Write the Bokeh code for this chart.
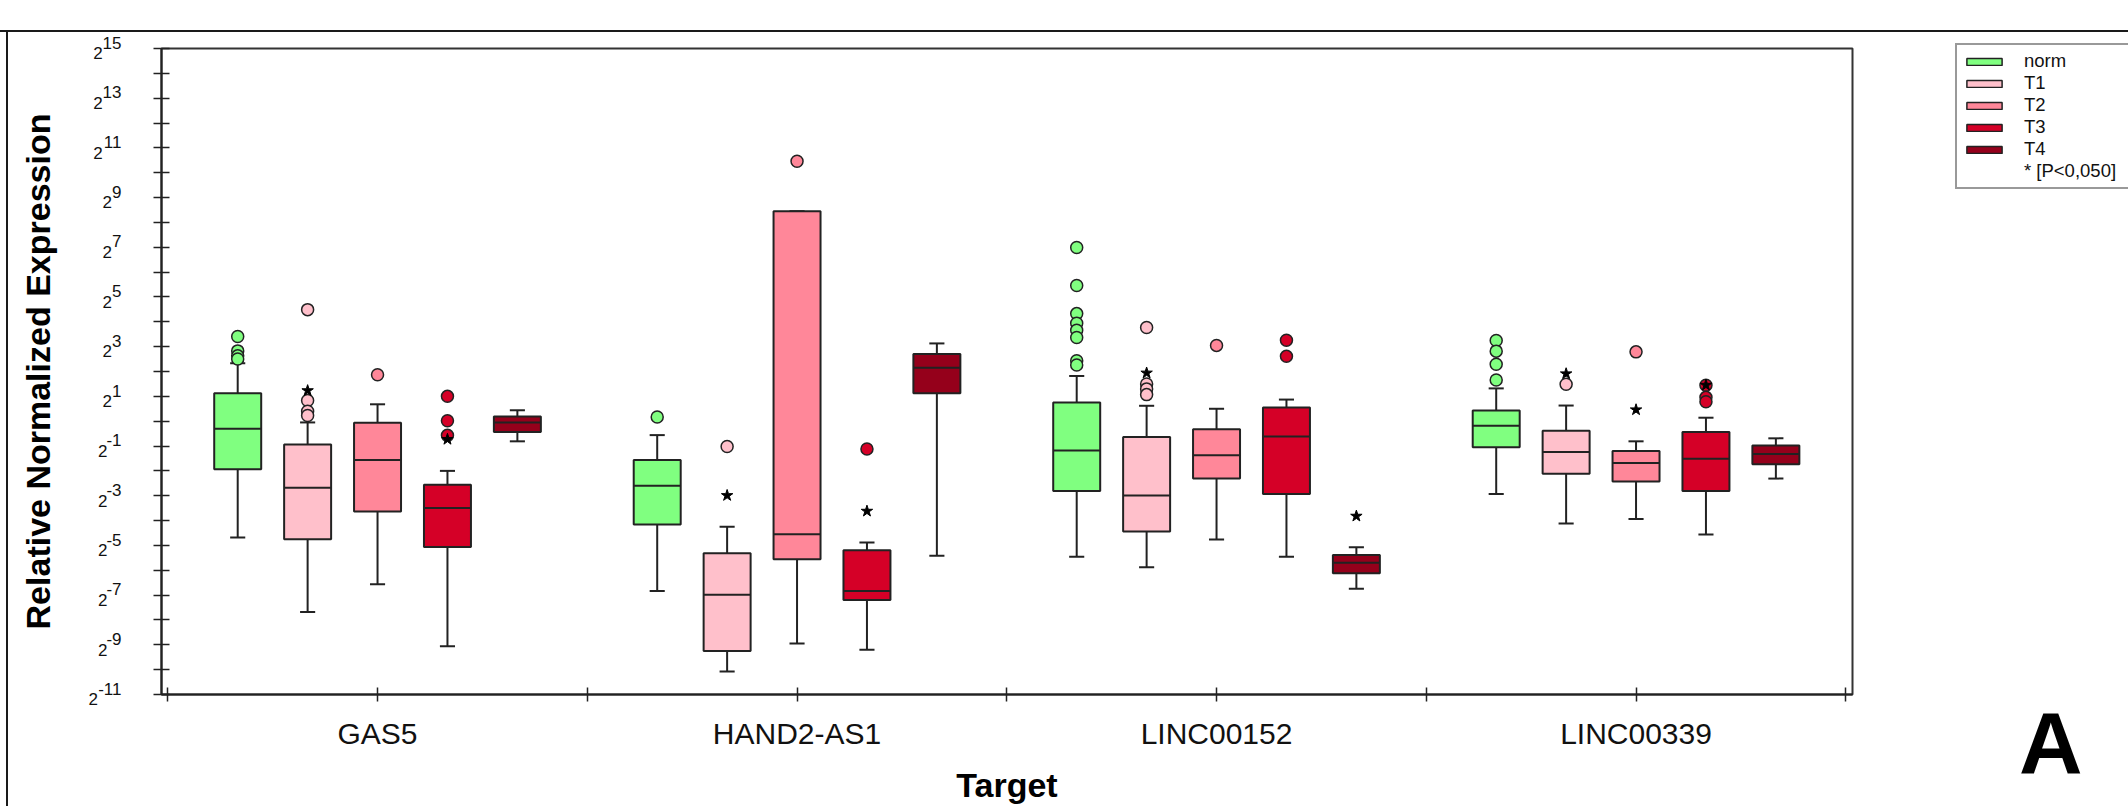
from bokeh.plotting import figure
from bokeh.models import FixedTicker, Legend, LegendItem, ColumnDataSource, Range1d, Div
from bokeh.layouts import column
from bokeh.embed import file_html
from bokeh.resources import INLINE

# ---------------- data (log2 of relative normalized expression) ----------------
targets = ["GAS5", "HAND2-AS1", "LINC00152", "LINC00339"]
series = ["norm", "T1", "T2", "T3", "T4"]
colors = ["#80FF80", "#FFC0CB", "#FF8799", "#D50027", "#95001B"]

# rows = targets, columns = series (norm, T1, T2, T3, T4)
whisker_low = [
    [-4.68, -7.68, -6.56, -9.06, -0.81],
    [-6.83, -10.07, -8.95, -9.20, -5.42],
    [-5.46, -5.88, -4.76, -5.46, -6.74],
    [-2.93, -4.12, -3.94, -4.56, -2.31],
]
q1 = [
    [-1.93, -4.75, -3.63, -5.06, -0.44],
    [-4.16, -9.25, -5.56, -7.20, 1.12],
    [-2.81, -4.44, -2.31, -2.93, -6.12],
    [-1.05, -2.12, -2.43, -2.81, -1.73],
]
median = [
    [-0.30, -2.68, -1.56, -3.49, -0.05],
    [-2.60, -6.99, -4.55, -6.83, 2.15],
    [-1.18, -2.99, -1.37, -0.62, -5.70],
    [-0.18, -1.24, -1.68, -1.51, -1.32],
]
q3 = [
    [1.12, -0.94, -0.06, -2.56, 0.19],
    [-1.56, -5.31, 8.45, -5.19, 2.70],
    [0.75, -0.64, -0.32, 0.55, -5.39],
    [0.43, -0.38, -1.20, -0.44, -0.98],
]
whisker_high = [
    [2.33, -0.05, 0.68, -2.00, 0.44],
    [-0.56, -4.25, 8.45, -4.88, 3.13],
    [1.82, 0.62, 0.50, 0.87, -5.07],
    [1.32, 0.63, -0.81, 0.14, -0.69],
]

# outliers: target index, series index, value
outlier_target = [0, 0, 0, 0, 0, 0, 0, 0, 0, 0, 0, 0,
                  1, 1, 1, 1,
                  2, 2, 2, 2, 2, 2, 2, 2, 2, 2, 2, 2, 2, 2, 2,
                  3, 3, 3, 3, 3, 3, 3, 3, 3]
outlier_series = [0, 0, 0, 0, 1, 1, 1, 1, 2, 3, 3, 3,
                  0, 1, 2, 3,
                  0, 0, 0, 0, 0, 0, 0, 0, 1, 1, 1, 1, 2, 3, 3,
                  0, 0, 0, 0, 1, 2, 3, 3, 3]
outlier_value = [3.41, 2.83, 2.63, 2.50, 4.49, 0.83, 0.40, 0.23, 1.87, 1.00, 0.02, -0.57,
                 0.17, -1.02, 10.46, -1.12,
                 6.99, 5.46, 4.33, 3.94, 3.66, 3.37, 2.43, 2.26, 3.77, 1.50, 1.30, 1.07, 3.05, 3.26, 2.61,
                 3.25, 2.82, 2.29, 1.66, 1.49, 2.79, 1.45, 0.96, 0.78]

# significance stars: target index, series index, value
star_target = [0, 0, 1, 1, 2, 2, 3, 3, 3]
star_series = [1, 3, 1, 3, 1, 4, 1, 2, 3]
star_value = [1.23, -0.73, -2.99, -3.62, 1.94, -3.82, 1.91, 0.46, 1.45]

y_ticks = list(range(-11, 16, 2))
y_minor = list(range(-10, 15, 2))

# ---------------- main figure ----------------
FONT = "Liberation Sans"
EDGE = "#222222"
BOX_W = 0.112
CAP_W = 0.036
STEP = 1.0 / 6.0

p = figure(width=2128, height=806, output_backend="svg", toolbar_location=None,
           x_range=Range1d(0.485, 4.516), y_range=Range1d(-11, 15),
           min_border_left=161, min_border_right=276, min_border_top=48, min_border_bottom=109)
p.border_fill_color = None
p.background_fill_color = "white"
p.outline_line_color = "#333333"
p.outline_line_width = 2
p.xgrid.visible = False
p.ygrid.visible = False
p.styles = {
    "background": "linear-gradient(#1a1a1a,#1a1a1a) 0px 30px / 100% 2px no-repeat, "
                  "linear-gradient(#1a1a1a,#1a1a1a) 6px 30px / 2px 100% no-repeat, white"
}


def pos(t, s):
    return t + 1 + (s - 2) * STEP


sources = []
for s, name in enumerate(series):
    xs = [pos(t, s) for t in range(len(targets))]
    src = ColumnDataSource(dict(
        x=xs,
        xl=[x - BOX_W / 2 for x in xs], xr=[x + BOX_W / 2 for x in xs],
        cl=[x - CAP_W / 2 for x in xs], cr=[x + CAP_W / 2 for x in xs],
        lo=[whisker_low[t][s] for t in range(len(targets))],
        q1=[q1[t][s] for t in range(len(targets))],
        med=[median[t][s] for t in range(len(targets))],
        q3=[q3[t][s] for t in range(len(targets))],
        hi=[whisker_high[t][s] for t in range(len(targets))],
    ))
    sources.append(src)
    p.segment(x0="x", y0="lo", x1="x", y1="q1", source=src, line_color=EDGE, line_width=2)
    p.segment(x0="x", y0="q3", x1="x", y1="hi", source=src, line_color=EDGE, line_width=2)
    p.segment(x0="cl", y0="lo", x1="cr", y1="lo", source=src, line_color=EDGE, line_width=2)
    p.segment(x0="cl", y0="hi", x1="cr", y1="hi", source=src, line_color=EDGE, line_width=2)
    p.vbar(x="x", width=BOX_W, top="q3", bottom="q1", source=src,
           fill_color=colors[s], line_color=EDGE, line_width=2)
    p.segment(x0="xl", y0="med", x1="xr", y1="med", source=src, line_color=EDGE, line_width=2)

osrc = ColumnDataSource(dict(
    x=[pos(t, s) for t, s in zip(outlier_target, outlier_series)],
    y=outlier_value,
    c=[colors[s] for s in outlier_series],
))
p.scatter(x="x", y="y", source=osrc, marker="circle", size=12,
          fill_color="c", line_color=EDGE, line_width=1.5)

ssrc = ColumnDataSource(dict(
    x=[pos(t, s) for t, s in zip(star_target, star_series)],
    y=star_value,
))
p.scatter(x="x", y="y", source=ssrc, marker="star", size=12,
          fill_color="black", line_color="black", line_width=1)


# ---------------- axes ----------------
def pow2_label(k):
    e = str(k)
    pad = "\u00a0" * sum(2 if c.isdigit() else 1 for c in e)
    return e + "\n" + "2" + pad


yax = p.yaxis[0]
yax.ticker = FixedTicker(ticks=y_ticks, minor_ticks=y_minor)
yax.major_label_overrides = {k: pow2_label(k) for k in y_ticks}
yax.major_tick_in = 8
yax.major_tick_out = 8
yax.minor_tick_in = 8
yax.minor_tick_out = 8
yax.major_tick_line_color = EDGE
yax.minor_tick_line_color = EDGE
yax.major_tick_line_width = 1.5
yax.minor_tick_line_width = 1.5
yax.axis_line_color = EDGE
yax.axis_line_width = 2
yax.major_label_text_font = FONT
yax.major_label_text_font_size = "17px"
yax.major_label_text_line_height = 0.56
yax.major_label_text_color = "#111111"
yax.major_label_standoff = 32
yax.axis_label = "Relative Normalized Expression"
yax.axis_label_text_font = FONT
yax.axis_label_text_font_style = "bold"
yax.axis_label_text_font_size = "34px"
yax.axis_label_text_color = "black"
yax.axis_label_standoff = 28

xax = p.xaxis[0]
xax.ticker = FixedTicker(ticks=[1, 2, 3, 4], minor_ticks=[0.5, 1.5, 2.5, 3.5, 4.5])
xax.major_label_overrides = {i + 1: t for i, t in enumerate(targets)}
xax.major_tick_in = 7
xax.major_tick_out = 7
xax.minor_tick_in = 7
xax.minor_tick_out = 7
xax.major_tick_line_color = EDGE
xax.minor_tick_line_color = EDGE
xax.major_tick_line_width = 1.5
xax.minor_tick_line_width = 1.5
xax.axis_line_color = EDGE
xax.axis_line_width = 2
xax.major_label_text_font = FONT
xax.major_label_text_font_size = "30px"
xax.major_label_text_color = "#111111"
xax.major_label_standoff = 15
xax.axis_label = "Target"
xax.axis_label_text_font = FONT
xax.axis_label_text_font_style = "bold"
xax.axis_label_text_font_size = "34px"
xax.axis_label_text_color = "black"
xax.axis_label_standoff = 13

# ---------------- legend (overlay figure at the top right) ----------------
# the overlay draws the same boxes, but its ranges keep them out of view; only its legend shows
q = figure(width=173, height=150, output_backend="svg", toolbar_location=None,
           x_axis_location=None, y_axis_location=None,
           x_range=Range1d(-100, -99), y_range=Range1d(-100, -99),
           min_border=0, min_border_left=0, min_border_right=0,
           min_border_top=0, min_border_bottom=0)
q.outline_line_color = None
q.background_fill_color = None
q.border_fill_color = None
q.xgrid.visible = False
q.ygrid.visible = False
q.styles = {"position": "absolute", "left": "1955px", "top": "43px"}

items = []
for s, name in enumerate(series):
    r = q.vbar(x="x", width=BOX_W, top="q3", bottom="q1", source=sources[s],
               fill_color=colors[s], line_color=EDGE, line_width=1.5)
    items.append(LegendItem(label=name, renderers=[r], index=0))
note = q.scatter(x="x", y="y", source=ssrc, fill_alpha=0, line_alpha=0)
items.append(LegendItem(label="* [P<0,050]", renderers=[note]))

legend = Legend(items=items, location="top_left", orientation="vertical",
                glyph_width=44, glyph_height=9, label_height=21, label_width=106, spacing=0,
                padding=5, margin=0, label_standoff=18,
                label_text_font=FONT, label_text_font_size="18.5px",
                label_text_line_height=1.0,
                label_text_color="#111111",
                border_line_color="#333333", border_line_width=2,
                background_fill_color="white", background_fill_alpha=1.0)
q.add_layout(legend)

# panel letter
letter = Div(text="A", styles={
    "position": "absolute", "left": "2019px", "top": "699px",
    "font-family": "'Liberation Sans', Arial, sans-serif", "font-weight": "bold",
    "font-size": "88px", "line-height": "1", "color": "black", "margin": "0", "padding": "0",
})

layout = column(p, q, letter)
open("out.html", "w").write(file_html(layout, INLINE))
